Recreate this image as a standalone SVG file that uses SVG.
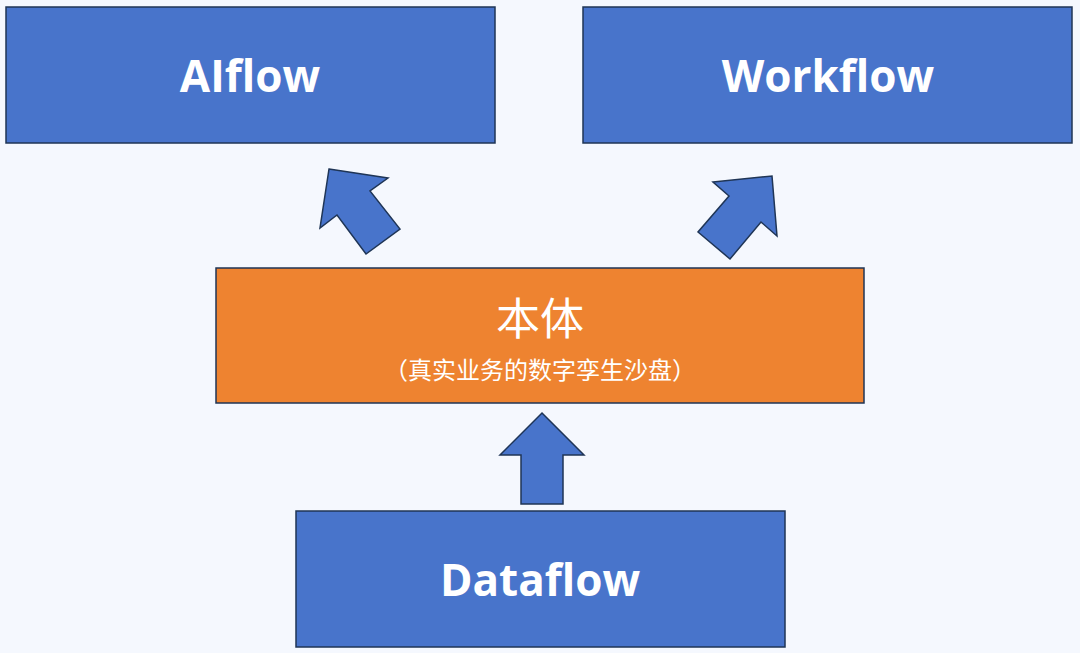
<svg xmlns="http://www.w3.org/2000/svg" width="1080" height="653" viewBox="0 0 1080 653">
<style>
.b{fill:#4874cb;stroke:#1f3556;stroke-width:1.5}
.o{fill:#ee8330;stroke:#1f3556;stroke-width:1.5}
.t{fill:#fff;font-family:"Open Sans","Noto Sans",sans-serif;font-weight:bold;font-size:44px;text-anchor:middle}
.a{fill:#4874cb;stroke:#1f3556;stroke-width:1.5;stroke-linejoin:miter}
</style>
<rect width="1080" height="653" fill="#f5f8fe"/>
<g id="aiflow"><rect class="b" x="6" y="7" width="489" height="136"/><text class="t" x="250" y="92">AIflow</text></g>
<g id="workflow"><rect class="b" x="583" y="7" width="489" height="136"/><text class="t" x="828" y="92">Workflow</text></g>
<g id="ontology"><rect class="o" x="216" y="268" width="648" height="135"/>
<text x="540" y="335" fill="#fff" font-family="'Noto Sans CJK SC',sans-serif" font-size="44" text-anchor="middle">本体</text>
<text x="540" y="379" fill="#fff" font-family="'Noto Sans CJK SC',sans-serif" font-size="24" text-anchor="middle">（真实业务的数字孪生沙盘）</text></g>
<g id="dataflow"><rect class="b" x="296" y="511" width="489" height="136"/><text class="t" x="540" y="596">Dataflow</text></g>
<g id="connectors">
<polygon class="a" points="329,169 388,178 370,191 400,229 366,254 337,215 320,228"/>
<polygon class="a" points="713,182 772,176 777,236 761,222 730,259 698,232 729,196"/>
<polygon class="a" points="542,413 584,455 563,455 563,504 521,504 521,455 500,455"/>
</g>
</svg>
